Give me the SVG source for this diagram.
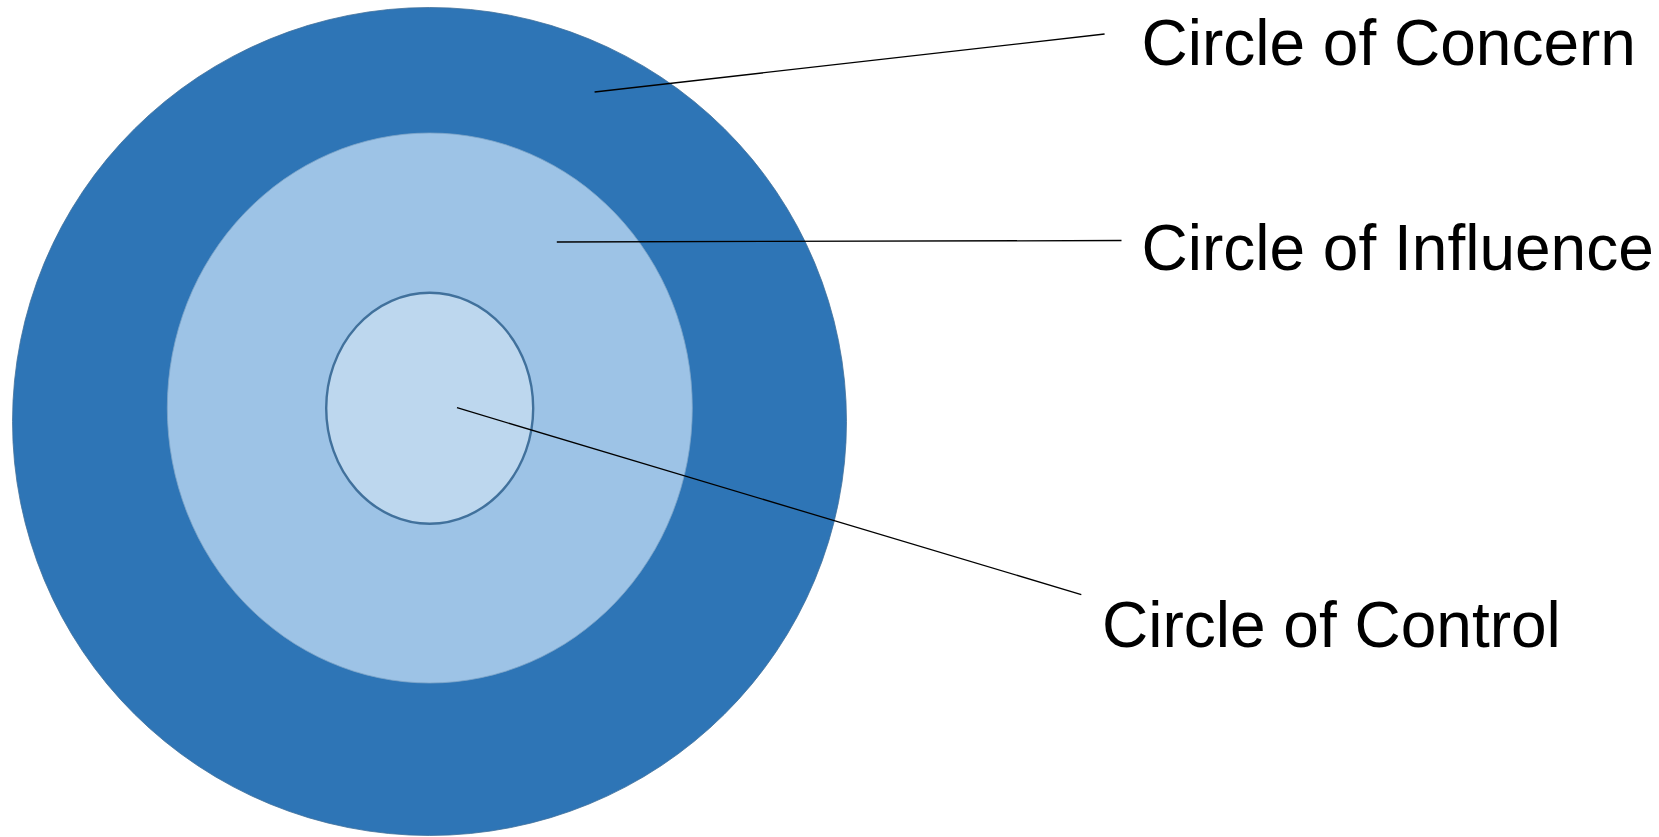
<svg xmlns="http://www.w3.org/2000/svg" width="1659" height="837" viewBox="0 0 1659 837">
  <style>
    .label { font-family: "Liberation Sans", Arial, sans-serif; font-size: 64px; fill: #000000; }
    .leader { stroke: #000000; stroke-width: 1.3; fill: none; }
  </style>
  <rect x="0" y="0" width="1659" height="837" fill="#ffffff"/>
  <g id="concern">
    <ellipse cx="429.5" cy="421.5" rx="417" ry="414" fill="#2e75b6" stroke="#41719c" stroke-width="0.8"/>
  </g>
  <g id="influence">
    <ellipse cx="429.8" cy="408" rx="262.5" ry="275" fill="#9dc3e6" stroke="#7fa6c9" stroke-width="0.8"/>
  </g>
  <g id="control">
    <ellipse cx="429.7" cy="408.2" rx="103.5" ry="115.5" fill="#bdd7ee" stroke="#41719c" stroke-width="2.4"/>
  </g>
  <g id="connectors">
    <line class="leader" x1="594.6" y1="92" x2="1104.6" y2="34"/>
    <line class="leader" x1="556.8" y1="242" x2="1121.5" y2="240.5"/>
    <line class="leader" x1="457" y1="407.7" x2="1081.3" y2="594.6"/>
  </g>
  <g id="labels">
    <text class="label" x="1141.5" y="65">Circle of Concern</text>
    <text class="label" x="1141.5" y="270">Circle of Influence</text>
    <text class="label" x="1102" y="647">Circle of Control</text>
  </g>
</svg>
